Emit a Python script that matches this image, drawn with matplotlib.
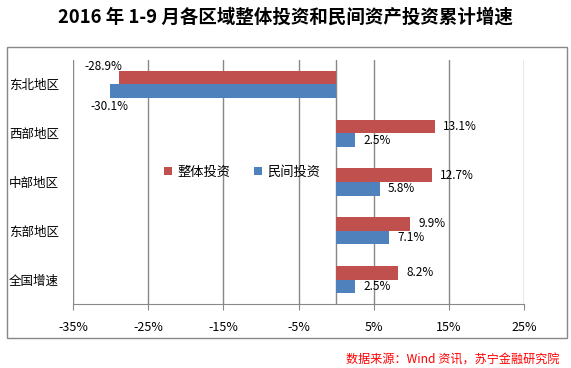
import numpy as np
import matplotlib
matplotlib.use("Agg")
import matplotlib.pyplot as plt
from matplotlib.patches import Rectangle

plt.rcParams['font.family'] = ['Noto Sans CJK SC', 'DejaVu Sans']

regions = ["东北地区", "西部地区", "中部地区", "东部地区", "全国增速"]
total = [-28.9, 13.1, 12.7, 9.9, 8.2]     # 整体投资
private = [-30.1, 2.5, 5.8, 7.1, 2.5]     # 民间投资
xticks = [-35, -25, -15, -5, 5, 15, 25]

red = "#C0504D"
blue = "#4F81BD"
grey = "#888888"

fig = plt.figure(figsize=(5.71, 3.68), dpi=100)
ax = fig.add_axes([73/571, 1-304/368, 451/571, 244/368])

y = np.arange(len(regions))
h = 0.28
ax.barh(y - h/2, total, height=h, color=red, label="整体投资", zorder=3)
ax.barh(y + h/2, private, height=h, color=blue, label="民间投资", zorder=3)

ax.set_xlim(-35, 25)
ax.set_ylim(len(regions) - 0.5, -0.5)
ax.set_xticks(xticks)
ax.set_xticklabels([f"{t}%" for t in xticks], fontsize=9)
ax.set_yticks(y)
ax.set_yticklabels(regions, fontsize=9)
ax.tick_params(axis='y', length=0, pad=10)
ax.tick_params(axis='x', length=4, color=grey, pad=8, direction='out')

for s in ['top', 'right', 'left']:
    ax.spines[s].set_visible(False)
ax.spines['bottom'].set_color(grey)
ax.xaxis.grid(True, color=grey, lw=1, zorder=1)
ax.axvline(0, color=grey, lw=1, zorder=2)

# value labels
for i in range(len(regions)):
    if total[i] >= 0:
        ax.annotate(f"{total[i]}%", (total[i], y[i] - h/2), xytext=(6, 0),
                    textcoords='offset points', ha='left', va='center', fontsize=8.5)
        ax.annotate(f"{private[i]}%", (private[i], y[i] + h/2), xytext=(6, 0),
                    textcoords='offset points', ha='left', va='center', fontsize=8.5)
    else:
        ax.annotate(f"{total[i]}%", (total[i], y[i] - h/2), xytext=(-11, 8),
                    textcoords='offset points', ha='center', va='center', fontsize=8.5)
        ax.annotate(f"{private[i]}%", (private[i], y[i] + h/2), xytext=(0, -11),
                    textcoords='offset points', ha='center', va='center', fontsize=8.5)

leg = ax.legend(loc='center', bbox_to_anchor=(0.375, 0.541), ncol=2, frameon=False,
                fontsize=9.5, handlelength=0.6, handleheight=0.6, handletextpad=0.4,
                columnspacing=1.8)

fig.text(0.5, 1-17/368, "2016 年 1-9 月各区域整体投资和民间资产投资累计增速",
         ha='center', va='center', fontsize=13.3, fontweight='bold')
fig.text(559/571, 1-360/368, "数据来源：Wind 资讯，苏宁金融研究院", ha='right',
         va='center', fontsize=8.7, color='#FF0000', style='italic')

fig.patches.append(Rectangle((6.5/571, 1-338/368), 560.5/571, 291/368,
                             transform=fig.transFigure, fill=False,
                             edgecolor=grey, lw=1))

fig.savefig("out.png", dpi=100)
